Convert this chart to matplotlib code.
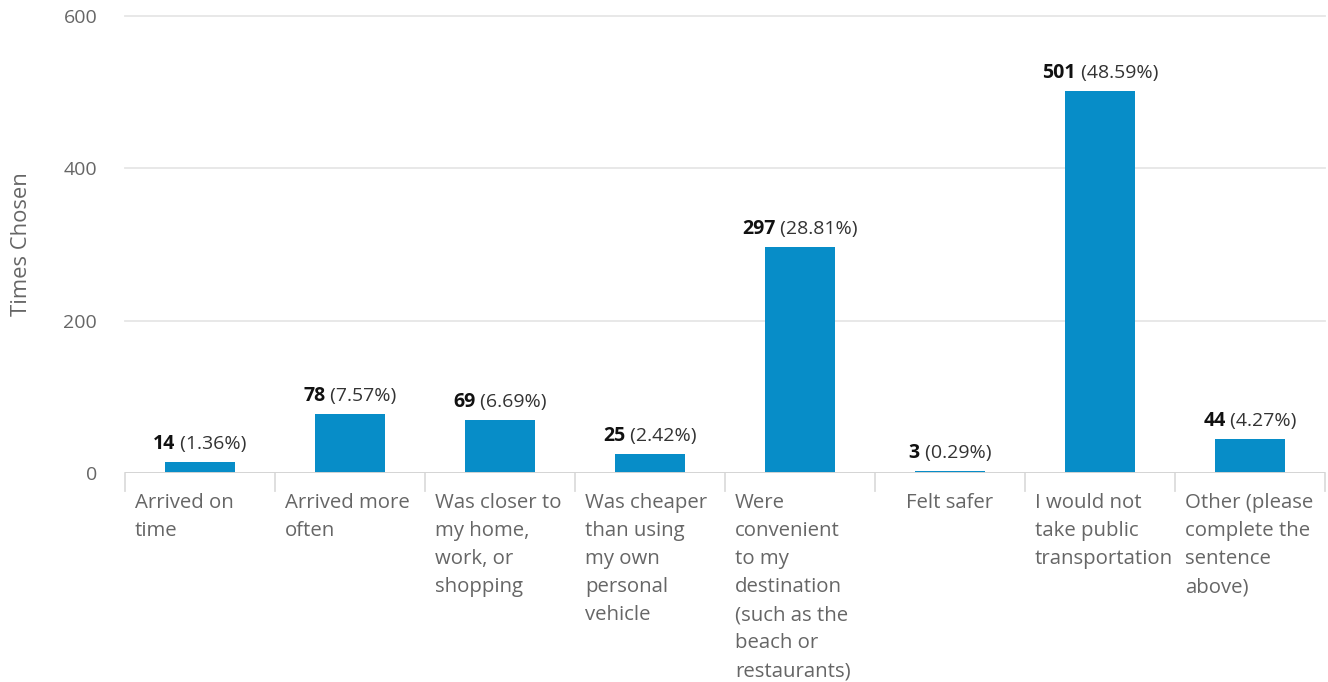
import matplotlib
matplotlib.use("Agg")
import matplotlib.pyplot as plt
from matplotlib.transforms import blended_transform_factory, offset_copy

plt.rcParams["font.family"] = ["Open Sans", "DejaVu Sans"]

# Survey responses: answer options and how often each was chosen
categories = [
    "Arrived on\ntime",
    "Arrived more\noften",
    "Was closer to\nmy home,\nwork, or\nshopping",
    "Was cheaper\nthan using\nmy own\npersonal\nvehicle",
    "Were\nconvenient\nto my\ndestination\n(such as the\nbeach or\nrestaurants)",
    "Felt safer",
    "I would not\ntake public\ntransportation",
    "Other (please\ncomplete the\nsentence\nabove)",
]
counts = [14, 78, 69, 25, 297, 3, 501, 44]
y_ticks = [0, 200, 400, 600]
y_label = "Times Chosen"

total = sum(counts)
percents = [100.0 * c / total for c in counts]

BAR = "#078DC8"
GRID = "#e6e6e6"
TEXT = "#666666"

W, H = 1328, 682
fig = plt.figure(figsize=(W / 100, H / 100), dpi=100)
ax = fig.add_axes([125 / W, (H - 473) / H, 1200 / W, 457 / H])

x = list(range(len(categories)))
ax.bar(x, counts, width=70 / 150, color=BAR, zorder=3)

ax.set_xlim(-0.5, len(categories) - 0.5)
ax.set_ylim(0, 600)
ax.set_yticks(y_ticks)
ax.set_yticklabels([str(t) for t in y_ticks], fontsize=14, color=TEXT)
ax.tick_params(axis="y", length=0, pad=20)
ax.set_xticks([])
for s in ax.spines.values():
    s.set_visible(False)
for t in y_ticks[1:]:
    ax.axhline(t, color=GRID, lw=1.3, zorder=1, clip_on=False)
ax.axhline(0, color="#d4d4d4", lw=1.4, zorder=4)

ax.set_ylabel(y_label, fontsize=15.8, color=TEXT)
ax.yaxis.set_label_coords(-93 / 1200, 0.5)

# Category separators below the baseline
trans = blended_transform_factory(ax.transData, ax.transAxes)
for i in range(len(categories) + 1):
    ax.plot([i - 0.5, i - 0.5], [0, -18 / 457], transform=trans,
            color="#dcdcdc", lw=1.3, clip_on=False)

# Category labels: wrapped labels are left-aligned in a fixed-width box
for i, lab in enumerate(categories):
    if "\n" in lab:
        xpos, ha = i - 65 / 150, "left"
    else:
        xpos, ha = i, "center"
    ax.annotate(lab, xy=(xpos, 0), xycoords=trans,
                xytext=(0, -14.5), textcoords="offset points",
                ha=ha, va="top", fontsize=14.7, color=TEXT, linespacing=1.535)

# Value labels: bold count followed by the share in parentheses
fig.canvas.draw()
renderer = fig.canvas.get_renderer()
for i, (c, p) in enumerate(zip(counts, percents)):
    num = ax.text(0, 0, f"{c}", fontsize=14, fontweight="bold", color="#111111")
    pct = ax.text(0, 0, f" ({p:.2f}%)", fontsize=14, color="#333333")
    wn = num.get_window_extent(renderer).width
    wp = pct.get_window_extent(renderer).width
    num.remove()
    pct.remove()
    start = -(wn + wp) / 2
    base = offset_copy(ax.transData, fig=fig, x=start * 72 / 100, y=13 * 72 / 100, units="points")
    ax.text(i, c, f"{c}", transform=base, fontsize=14, fontweight="bold",
            color="#111111", ha="left", va="baseline", zorder=5)
    base2 = offset_copy(ax.transData, fig=fig, x=(start + wn) * 72 / 100, y=13 * 72 / 100, units="points")
    ax.text(i, c, f" ({p:.2f}%)", transform=base2, fontsize=14,
            color="#333333", ha="left", va="baseline", zorder=5)

fig.savefig("out.png", dpi=100)
